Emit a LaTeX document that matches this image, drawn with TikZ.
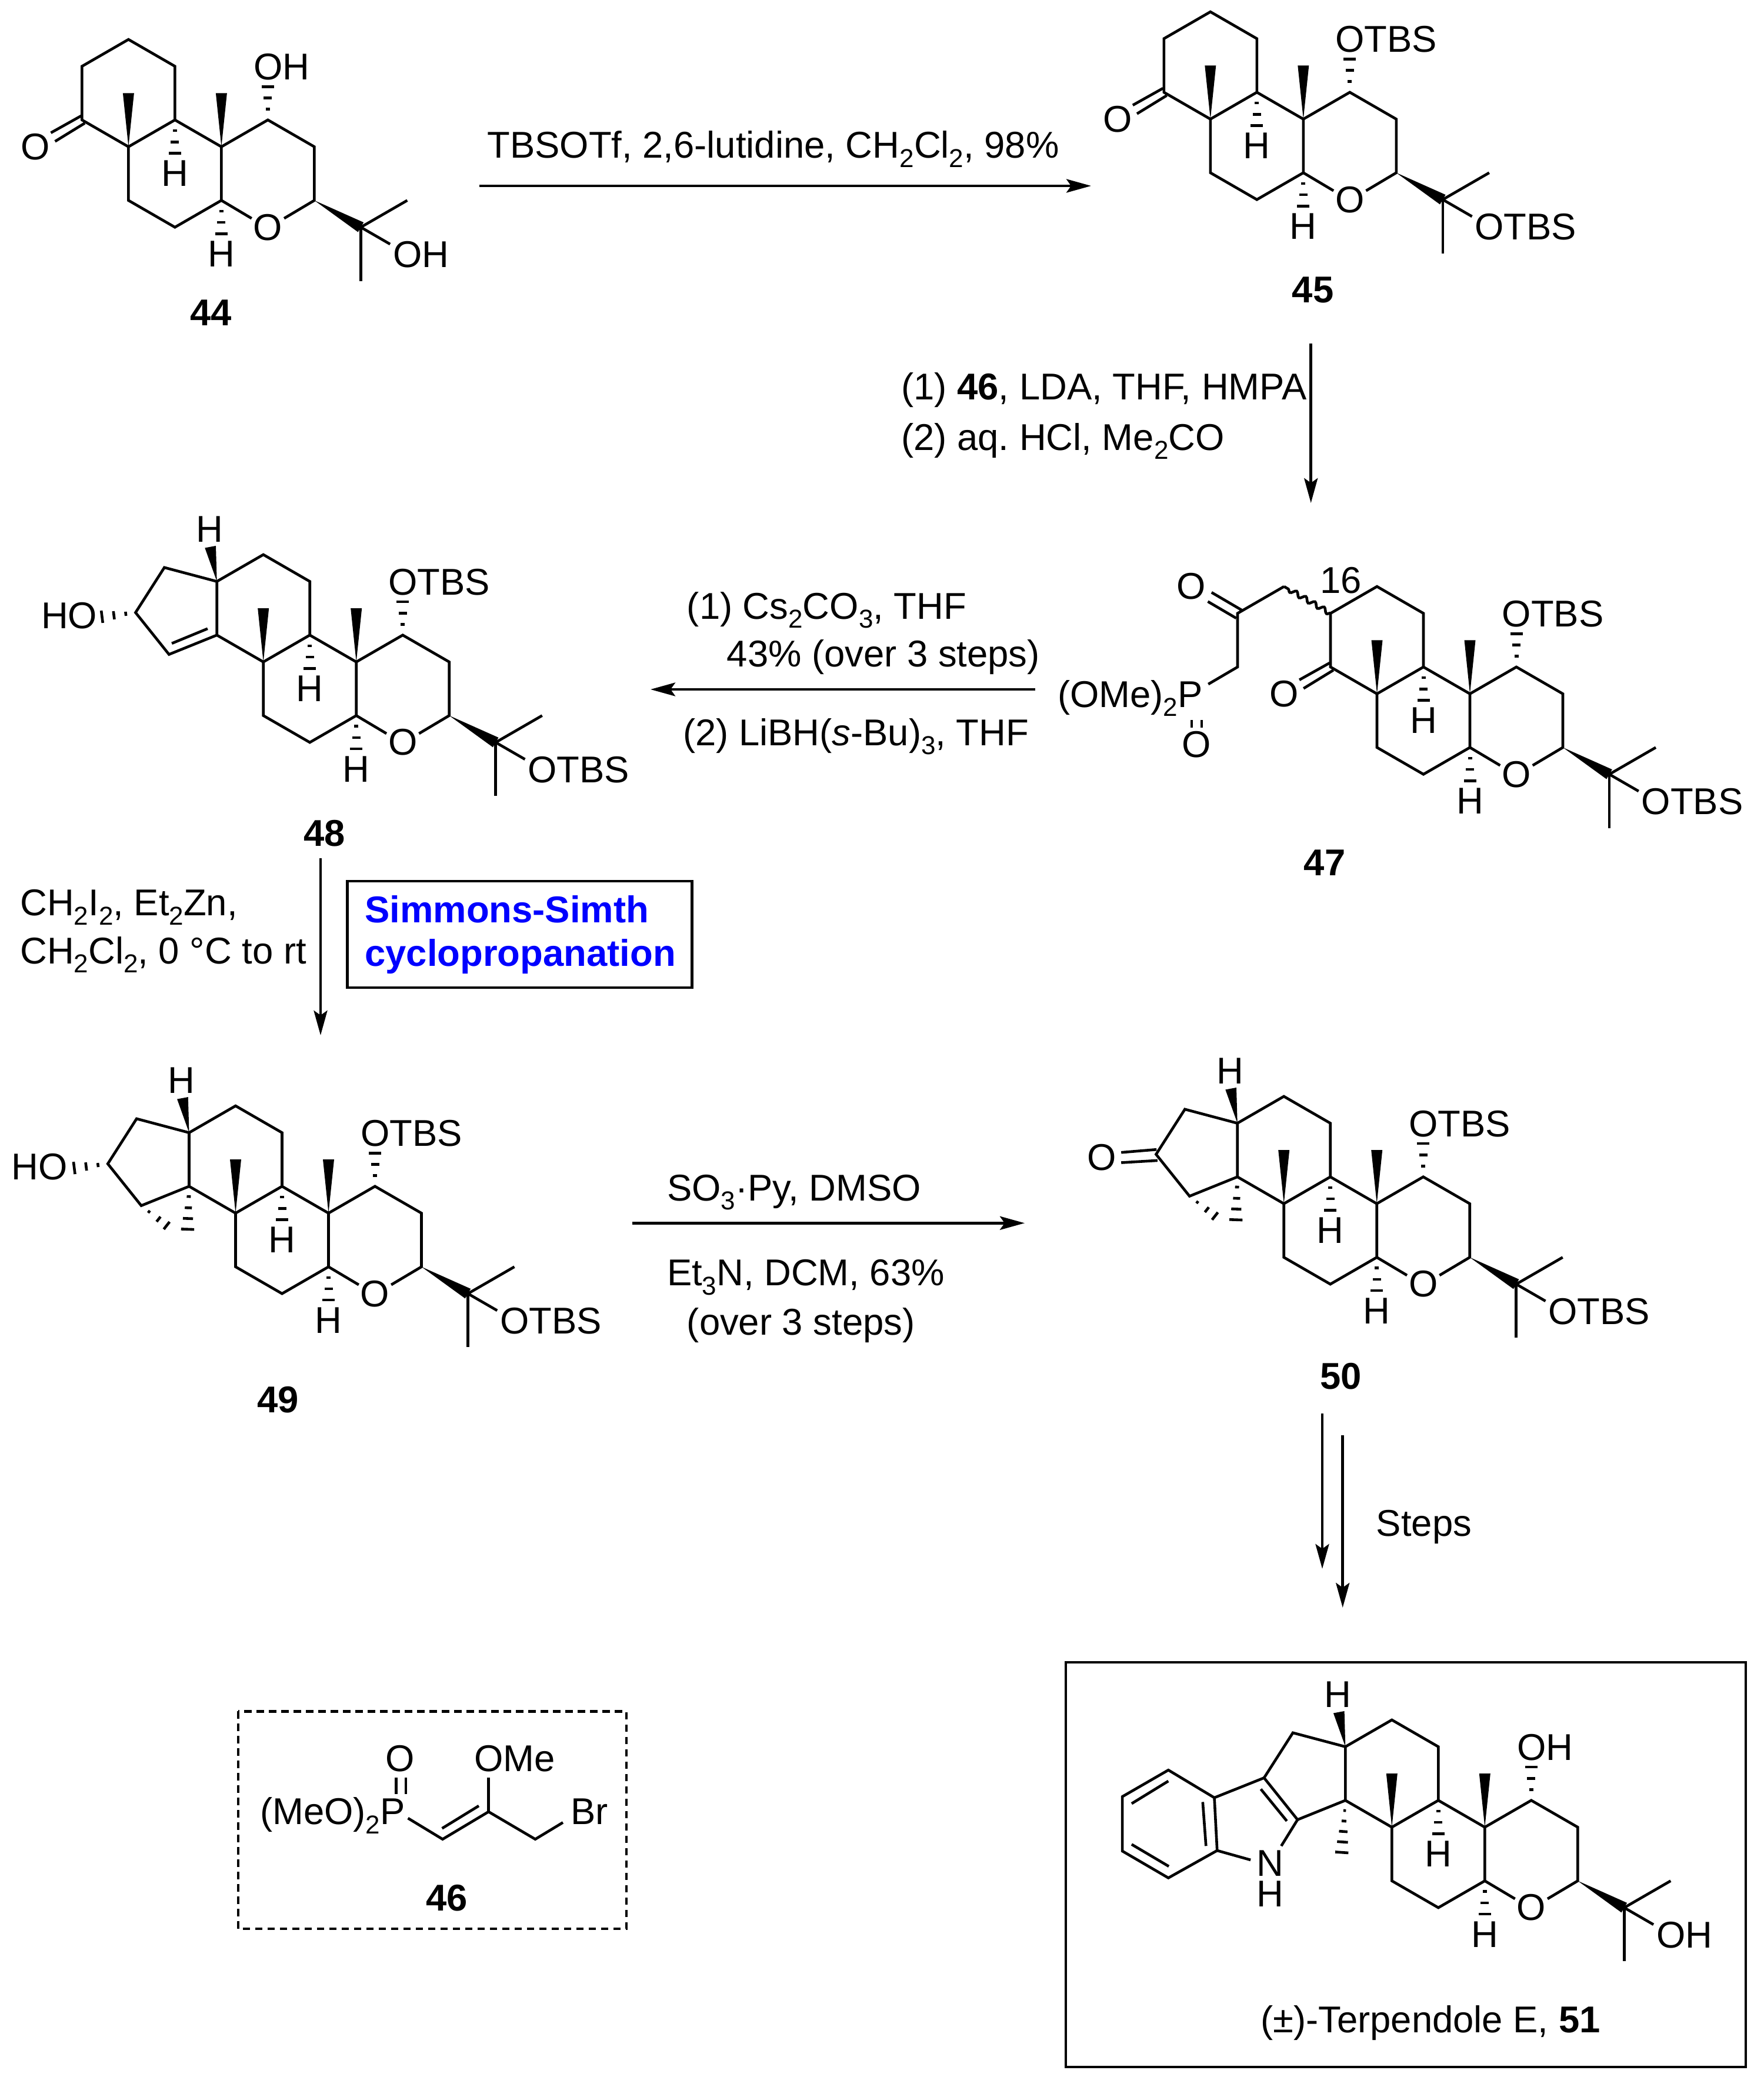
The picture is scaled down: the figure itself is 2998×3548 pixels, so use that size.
\documentclass[tikz,border=0pt]{standalone}
\usepackage{fontspec}
\setmainfont{Liberation Sans}
\usetikzlibrary{calc}
\usetikzlibrary{arrows.meta}
\usetikzlibrary{decorations.pathmorphing}
\newcommand{\labfont}{\fontsize{31.7}{37}\selectfont}
\newcommand{\chemsub}[1]{\raisebox{-.25em}{\fontsize{22}{22}\selectfont #1}}
\newcommand{\hashb}[3][.2/1.75,.41/3.5,.62/5.25]{%
	\foreach \fr/\hw in {#1}
		\draw[hash] ($(#2)!\fr!(#3)!\hw pt!90:(#3)$) -- ($(#2)!\fr!(#3)!\hw pt!-90:(#3)$);
}
\newcommand{\wedgeb}[3][4.75]{\fill (#2) -- ($(#3)!#1pt!90:(#2)$) -- ($(#3)!#1pt!-90:(#2)$) -- cycle;}
\tikzset{
	every node/.style={inner sep=0pt,font=\labfont},
	bond/.style={line width=2.3pt},
	hash/.style={line width=2.3pt},
	rxn/.style={line width=2.25pt,-{Stealth[length=21pt,width=11.5pt,inset=4pt]}},
	lattice/.style={x=39.5pt,y=-22.8pt},
	subst/.style={anchor=base west,xshift=-12.3pt,yshift=-11.3pt},
	reag/.style={anchor=base west},
	cmpd/.style={font=\labfont\bfseries},
	skel/.pic={
		\tikzset{/skel/.cd,#1}
		\draw[bond] (0,0) -- (-1,-1) -- (-1,-3) -- (0,-4) -- (1,-3) -- (1,-1) -- cycle;
		\draw[bond] (0,0) -- (0,2) -- (1,3) -- (2,2) -- (2,0) -- (1,-1);
		\draw[bond] (2,0) -- (3,-1) -- (4,0) -- (4,2) -- (3.35,2.67);
		\draw[bond] (2,2) -- (2.65,2.67);
		\draw[bond] (5,3) -- (6,2);
		\draw[bond] (5,3) -- (5.63,3.63);
		\draw[bond] (5,3) -- (5,5);
		\wedgeb{0,0}{0,-2}
		\wedgeb{2,0}{2,-2}
		\wedgeb{4,2}{5,3}
		\hashb{1,-1}{1,1}
		\hashb{2,2}{2,4}
		\hashb{3,-1}{3,-3}
		\node (-hb) at (1,1) {H};
		\node (-hc) at (2,4) {H};
		\node (-ox) at (3,3) {O};
		\node[subst] (-up) at (3,-3) {\skelupper};
		\node[subst] (-lo) at (6,4) {\skellower};
	},
	ketone/.pic={
		\draw[bond] (-1.02,-1.15) -- (-1.67,-.52);
		\draw[bond] (-.94,-.88) -- (-1.58,-.2);
		\node (-o) at (-2,0) {O};
	},
	fivering/.pic={
		\draw[bond] (-1,-3) -- (-2.13,-3.52) -- (-2.75,-1.84) -- (-2.03,-.28) -- (-1,-1);
		\wedgeb{-1,-3}{-1.14,-4.29}
		\node (-h) at (-1.16,-4.95) {H};
	},
	cycloprop/.pic={
		\hashb[.19/1.7,.4/3,.6/4.3,.8/5.6]{-1,-1}{-1.04,1}
		\hashb[.22/1.2,.49/2.7,.72/4,1/5]{-2.03,-.28}{-1.27,.75}
	},
	/skel/.cd,
	upper/.store in=\skelupper,
	lower/.store in=\skellower,
	upper=OTBS,
	lower=OTBS,
}
\begin{document}
\begin{tikzpicture}[x=.5pt,y=-.5pt]
	\useasboundingbox (0,0) rectangle (2998,3548);
	% 44
	\begin{scope}[shift={(218.4,249.5)},lattice]
		\pic (m44) {skel={upper=OH,lower=OH}};
		\pic (k44) {ketone};
	\end{scope}
	\node[cmpd] (l44) at (359,532) {44};
	% 45
	\begin{scope}[shift={(2057.8,202.5)},lattice]
		\pic (m45) {skel};
		\pic (k45) {ketone};
	\end{scope}
	\node[cmpd] (l45) at (2232,493) {45};
	% 47
	\begin{scope}[shift={(2341,1179.5)},lattice]
		\pic (m47) {skel};
		\pic (k47) {ketone};
		\draw[bond,decorate,decoration={snake,segment length=9pt,amplitude=2pt,pre length=0pt,post length=0pt}] (-1,-3) -- (-2,-4);
		\draw[bond] (-2,-4) -- (-3,-3) -- (-3,-1) -- (-3.63,-.36);
		\draw[bond] (-3.56,-3.78) -- (-2.91,-3.12);
		\draw[bond] (-3.64,-3.44) -- (-3.03,-2.82);
		\draw[bond] (-3.99,.98) -- (-3.99,1.27);
		\draw[bond] (-3.77,.98) -- (-3.77,1.27);
		\node (o47a) at (-4,-4) {O};
		\node (o47b) at (-3.89,1.9) {O};
		\node (n16) at (-.78,-4.23) {16};
		\node[anchor=base east,yshift=-11.3pt] (p47) at (-3.75,0) {(OMe)\chemsub{2}P};
	\end{scope}
	\node[cmpd] (l47) at (2252,1466.5) {47};
	% 48
	\begin{scope}[shift={(447.7,1125.3)},lattice]
		\pic (m48) {skel};
		\pic (f48) {fivering};
		\draw[bond] (-1.97,-.69) -- (-1.2,-1.24);
		\hashb[.19/1.75,.42/3.5,.65/5.25]{-2.75,-1.84}{-3.86,-1.6}
		\node[anchor=east] (ho48) at (-3.57,-1.72) {HO};
	\end{scope}
	\node[cmpd] (l48) at (551.8,1416.8) {48};
	% 49
	\begin{scope}[shift={(400.5,2062.4)},lattice]
		\pic (m49) {skel};
		\pic (f49) {fivering};
		\pic (c49) {cycloprop};
		\hashb[.19/1.75,.42/3.5,.65/5.25]{-2.75,-1.84}{-3.86,-1.6}
		\node[anchor=east] (ho49) at (-3.61,-1.72) {HO};
	\end{scope}
	\node[cmpd] (l49) at (472.8,2380) {49};
	% 50
	\begin{scope}[shift={(2182.7,2046.3)},lattice]
		\pic (m50) {skel};
		\pic (f50) {fivering};
		\pic (c50) {cycloprop};
		\draw[bond] (-3.5,-1.91) -- (-2.74,-2.02);
		\draw[bond] (-3.5,-1.53) -- (-2.72,-1.61);
		\node (o50) at (-3.92,-1.72) {O};
	\end{scope}
	\node[cmpd] (l50) at (2279.5,2340) {50};
	% 51
	\begin{scope}[shift={(2366.3,3106.3)},lattice]
		\pic (m51) {skel={upper=OH,lower=OH}};
		\pic (f51) {fivering};
		\hashb[.19/1.1,.385/2,.58/3.6,.775/4.6,.97/5.6]{-1,-1}{-1.08,1}
		\draw[bond] (-2.75,-1.84) -- (-3.82,-1.1) -- (-4.81,-2.13) -- (-5.8,-1.14) -- (-5.8,.89) -- (-4.81,1.89) -- (-3.76,.87) -- (-3.82,-1.1);
		\draw[bond] (-2.03,-.28) -- (-2.38,.7);
		\draw[bond] (-3.76,.87) -- (-3.04,1.22);
		\draw[bond] (-2.82,-1.42) -- (-2.26,-.23);
		\draw[bond] (-4.81,-1.72) -- (-5.6,-.88);
		\draw[bond] (-5.6,.64) -- (-4.8,1.46);
		\draw[bond] (-4.07,-.94) -- (-4,.7);
		\node[align=center] (nh51) at (-2.62,1.92) {N\\[-11pt]H};
	\end{scope}
	\draw[line width=2.4pt] (1812,2826) rectangle (2968,3514);
	\node[anchor=base] (l51) at (2432,3455) {(±)-Terpendole E, \textbf{51}};
	% 46
	\draw[line width=2.2pt,dash pattern=on 6.2pt off 4.3pt] (404.7,2909.3) rectangle (1065,3279);
	\coordinate (c1) at (693.6,3091);
	\coordinate (c2) at (752.5,3126.7);
	\coordinate (c3) at (830.6,3080);
	\coordinate (c4) at (910,3126.7);
	\coordinate (c5) at (957,3098.3);
	\draw[bond] (c1) -- (c2) -- (c3) -- (c4) -- (c5);
	\draw[bond] (c3) -- (830.6,3021.7);
	\draw[bond] (751.6,3108.3) -- (814,3070);
	\draw[bond] (673.5,3021.7) -- (673.5,3050);
	\draw[bond] (690,3021.7) -- (690,3050);
	\node (o46) at (680,2989.3) {O};
	\node[subst] (ome) at (830.6,2989.3) {OMe};
	\node[anchor=base east] (p46) at (689,3101.7) {(MeO)\chemsub{2}P};
	\node[reag] (br) at (970,3101.7) {Br};
	\node[cmpd] (l46) at (759.6,3226.7) {46};
	% reactions
	\coordinate (a1s) at (814.5,316);
	\coordinate (a1e) at (1855,316);
	\draw[rxn] (a1s) -- (a1e);
	\node[reag] (r1) at (828,269) {TBSOTf, 2,6-lutidine, CH\chemsub{2}Cl\chemsub{2}, 98\%};
	\coordinate (a2s) at (2228.7,584);
	\coordinate (a2e) at (2228.7,855);
	\draw[rxn] (a2s) -- (a2e);
	\node[reag] (r2a) at (1531.8,679) {(1) \textbf{46}, LDA, THF, HMPA};
	\node[reag] (r2b) at (1531.8,765) {(2) aq.\ HCl, Me\chemsub{2}CO};
	\coordinate (a3s) at (1760,1172);
	\coordinate (a3e) at (1106,1172);
	\draw[rxn] (a3s) -- (a3e);
	\node[reag] (r3a) at (1167.5,1052) {(1) Cs\chemsub{2}CO\chemsub{3}, THF};
	\node[reag] (r3b) at (1235.4,1133.6) {43\% (over 3 steps)};
	\node[reag] (r3c) at (1160.7,1267) {(2) LiBH(\textit{s}-Bu)\chemsub{3}, THF};
	\coordinate (a4s) at (545,1459);
	\coordinate (a4e) at (545,1760);
	\draw[rxn] (a4s) -- (a4e);
	\node[reag] (r4a) at (34,1556.7) {CH\chemsub{2}I\chemsub{2}, Et\chemsub{2}Zn,};
	\node[reag] (r4b) at (34,1638) {CH\chemsub{2}Cl\chemsub{2}, 0 °C to rt};
	\draw[line width=2.1pt] (590.5,1498) rectangle (1176.5,1679);
	\node[reag,font=\labfont\bfseries,text=blue] (ss1) at (620,1568) {Simmons-Simth};
	\node[reag,font=\labfont\bfseries,text=blue] (ss2) at (620,1642.6) {cyclopropanation};
	\coordinate (a5s) at (1074.7,2079.3);
	\coordinate (a5e) at (1742,2079.3);
	\draw[rxn] (a5s) -- (a5e);
	\node[reag] (r5a) at (1133.6,2041) {SO\chemsub{3}·Py, DMSO};
	\node[reag] (r5b) at (1133.6,2185.7) {Et\chemsub{3}N, DCM, 63\%};
	\node[reag] (r5c) at (1167.5,2269) {(over 3 steps)};
	\coordinate (a6s) at (2248,2403);
	\coordinate (a6e) at (2248,2667);
	\coordinate (a7s) at (2282.7,2440);
	\coordinate (a7e) at (2282.7,2733);
	\draw[rxn] (a6s) -- (a6e);
	\draw[rxn] (a7s) -- (a7e);
	\node[reag] (r6) at (2339.5,2611) {Steps};
\end{tikzpicture}
\end{document}
